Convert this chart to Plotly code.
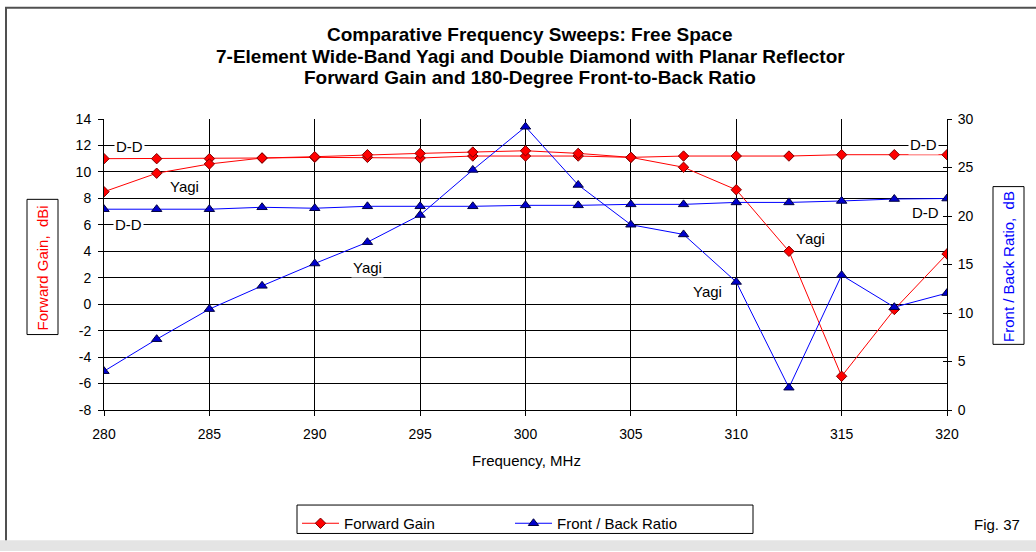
import plotly.graph_objects as go

# ---- data ----
freq = [280, 282.5, 285, 287.5, 290, 292.5, 295, 297.5, 300,
        302.5, 305, 307.5, 310, 312.5, 315, 317.5, 320]
gain_dd = [11.0, 11.0, 11.0, 11.05, 11.1, 11.1, 11.05, 11.2, 11.2,
           11.2, 11.1, 11.2, 11.2, 11.2, 11.3, 11.3, 11.3]
gain_yagi = [8.5, 9.9, 10.6, 11.05, 11.15, 11.3, 11.4, 11.5, 11.6,
             11.4, 11.1, 10.35, 8.65, 4.0, -5.45, -0.4, 3.8]
fb_dd = [20.7, 20.7, 20.7, 20.9, 20.8, 21.0, 21.0, 21.0, 21.1,
         21.1, 21.2, 21.2, 21.4, 21.4, 21.55, 21.75, 21.8]
fb_yagi = [4.0, 7.3, 10.4, 12.8, 15.1, 17.3, 20.1, 24.75, 29.2,
           23.2, 19.1, 18.1, 13.2, 2.3, 13.9, 10.6, 12.05]

gain_ticks = [-8, -6, -4, -2, 0, 2, 4, 6, 8, 10, 12, 14]
gain_tick_labels = ["-8", "-6", "-4", "-2", "0", "2", "4", "6", "8", "10", "12", "14"]
fb_ticks = [0, 5, 10, 15, 20, 25, 30]
freq_ticks = [280, 285, 290, 295, 300, 305, 310, 315, 320]

label_text = ["D-D", "Yagi", "D-D", "Yagi", "D-D", "D-D", "Yagi", "Yagi"]
label_x = [281.23, 283.8, 281.16, 292.5, 318.87, 318.97, 313.5, 308.65]
label_y = [11.9, 8.9, 6.0, 2.77, 12.1, 6.9, 5.0, 0.96]

title_lines = ["Comparative Frequency Sweeps: Free Space",
               "7-Element Wide-Band Yagi and Double Diamond with Planar Reflector",
               "Forward Gain and 180-Degree Front-to-Back Ratio"]

# ---- geometry helpers (pixel -> paper) ----
W, H = 1036, 552
L, R, T, B = 104, 947, 119, 416


def px(x):
    return (x - L) / (R - L)


def py(y):
    return (B - y) / (B - T)


FONT = "Liberation Sans, Arial, sans-serif"
RED = "#FF0000"
BLUE = "#0000FF"

fig = go.Figure()
fig.add_trace(go.Scatter(x=freq, y=gain_dd, name="Forward Gain", mode="lines+markers",
                         line=dict(color=RED, width=1),
                         marker=dict(symbol="diamond", size=8, color=RED,
                                     line=dict(color="#800000", width=1))))
fig.add_trace(go.Scatter(x=freq, y=gain_yagi, name="Forward Gain", mode="lines+markers",
                         showlegend=False, line=dict(color=RED, width=1),
                         marker=dict(symbol="diamond", size=8, color=RED,
                                     line=dict(color="#800000", width=1))))
fig.add_trace(go.Scatter(x=freq, y=fb_dd, name="Front / Back Ratio", mode="lines+markers",
                         yaxis="y2", line=dict(color=BLUE, width=1),
                         marker=dict(symbol="triangle-up", size=9, color="#0000CC",
                                     line=dict(color="#000040", width=1))))
fig.add_trace(go.Scatter(x=freq, y=fb_yagi, name="Front / Back Ratio", mode="lines+markers",
                         yaxis="y2", showlegend=False, line=dict(color=BLUE, width=1),
                         marker=dict(symbol="triangle-up", size=9, color="#0000CC",
                                     line=dict(color="#000040", width=1))))
# invisible trace to activate the tick-only axis (inner half of cross ticks on right)
fig.add_trace(go.Scatter(x=[freq[0]], y=[fb_dd[0]], yaxis="y3", mode="markers",
                         marker=dict(opacity=0), showlegend=False, hoverinfo="skip"))

annotations = []
for t, x, y in zip(label_text, label_x, label_y):
    annotations.append(dict(text=t, x=x, y=y, xref="x", yref="y", showarrow=False,
                            xanchor="center", yanchor="middle",
                            font=dict(family=FONT, size=15, color="black"),
                            bgcolor="white", borderpad=1))

for line, ypx in zip(title_lines, [33, 55, 77]):
    annotations.append(dict(text="<b>%s</b>" % line, x=px(530), y=py(ypx),
                            xref="paper", yref="paper", xanchor="center", yanchor="middle",
                            showarrow=False, font=dict(family=FONT, size=19, color="black")))


def paper_text(text, xp, yp, color="black", angle=0):
    return dict(text=text, x=px(xp), y=py(yp), xref="paper", yref="paper",
                xanchor="center", yanchor="middle", textangle=angle, showarrow=False,
                font=dict(family=FONT, size=15, color=color))


annotations.append(paper_text("Frequency, MHz", 526, 468))
annotations.append(paper_text("Forward Gain,  dBi", 42.5, 271, RED, -90))
annotations.append(paper_text("Front / Back Ratio,  dB", 1009, 270, BLUE, -90))
annotations.append(paper_text("Fig. 37", 997, 533))

shapes = [
    dict(type="rect", xref="paper", yref="paper", x0=px(27), x1=px(58), y0=py(201), y1=py(339),
         line=dict(color="black", width=1), fillcolor="rgba(0,0,0,0)"),
    dict(type="rect", xref="paper", yref="paper", x0=px(993), x1=px(1024), y0=py(188), y1=py(349),
         line=dict(color="black", width=1), fillcolor="rgba(0,0,0,0)"),
    dict(type="rect", xref="paper", yref="paper", x0=px(297), x1=px(753), y0=py(513), y1=py(542),
         line=dict(color="black", width=1), fillcolor="rgba(0,0,0,0)"),
    dict(type="line", xref="paper", yref="paper", x0=px(5), x1=px(1040), y0=py(5.5), y1=py(5.5),
         line=dict(color="#505050", width=2)),
    dict(type="line", xref="paper", yref="paper", x0=px(6), x1=px(6), y0=py(5), y1=py(560),
         line=dict(color="#505050", width=2)),
    dict(type="rect", xref="paper", yref="paper", x0=px(0), x1=px(1040), y0=py(549), y1=py(560),
         line=dict(width=0), fillcolor="#E4E4E4"),
]

tickfont = dict(family=FONT, size=14, color="black")
fig.update_layout(
    width=W, height=H,
    margin=dict(l=L, r=W - R, t=T, b=H - B, pad=0),
    paper_bgcolor="white", plot_bgcolor="white",
    showlegend=True,
    legend=dict(orientation="h", x=px(297), y=py(515), xanchor="left", yanchor="top",
                borderwidth=0, bgcolor="rgba(0,0,0,0)",
                font=dict(family=FONT, size=15, color="black"),
                entrywidth=161, entrywidthmode="pixels", itemwidth=37),
    xaxis=dict(range=[280, 320], tickvals=freq_ticks, showgrid=True, gridcolor="black", gridwidth=1,
               showline=True, linecolor="black", linewidth=1, zeroline=False,
               ticks="outside", ticklen=5, tickcolor="black", tickfont=tickfont,
               ticklabelstandoff=6),
    yaxis=dict(range=[-8, 14], tickvals=gain_ticks, ticktext=gain_tick_labels,
               showgrid=True, gridcolor="black", gridwidth=1,
               showline=True, linecolor="black", linewidth=1, zeroline=False,
               ticks="outside", ticklen=5, tickcolor="black", tickfont=tickfont,
               ticklabelstandoff=4),
    yaxis2=dict(range=[0, 30], tickvals=fb_ticks, overlaying="y", side="right", showgrid=False,
                showline=True, linecolor="black", linewidth=1, zeroline=False,
                ticks="outside", ticklen=4, tickcolor="black", tickfont=tickfont,
                ticklabelstandoff=3),
    yaxis3=dict(range=[0, 30], tickvals=fb_ticks, overlaying="y", side="right", showgrid=False,
                showline=False, zeroline=False, showticklabels=False,
                ticks="inside", ticklen=4, tickcolor="black"),
    annotations=annotations,
    shapes=shapes,
)

fig.write_html("out.html", config={"displayModeBar": False},
               post_script="document.body.style.margin='0';document.body.style.overflow='hidden';")
